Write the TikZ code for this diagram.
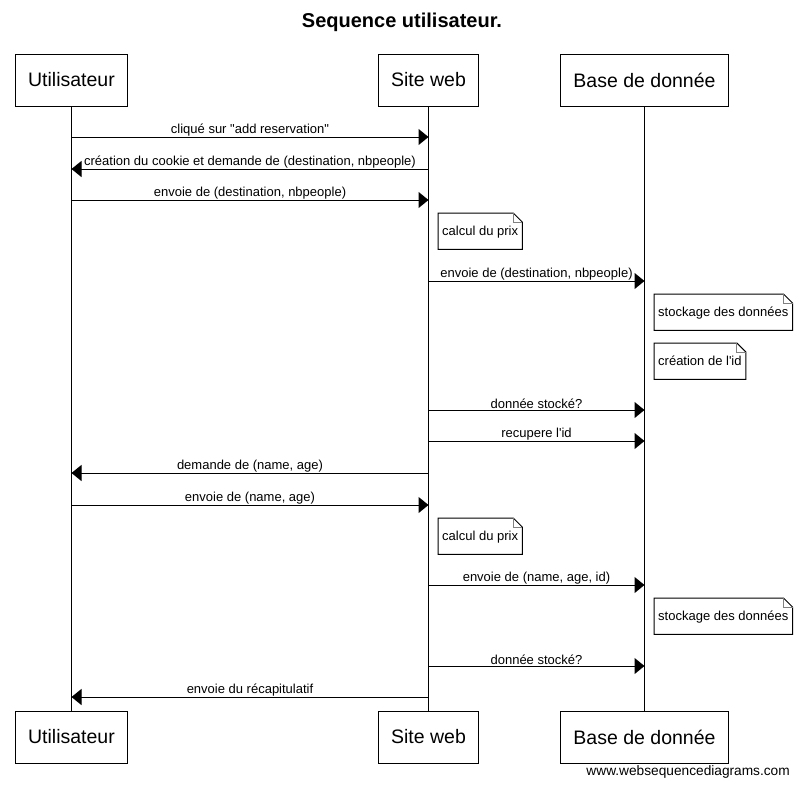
\documentclass[tikz,border=0pt]{standalone}
\usepackage{fontspec}
\setmainfont{Liberation Sans}
\usepackage{tikz}
\usetikzlibrary{arrows.meta,positioning,calc}
\tikzset{
  actor/.style={draw, line width=1pt, minimum height=52pt, inner xsep=13pt,
  font=\fontsize{19.5}{22}\selectfont},
  life/.style={line width=1pt},
  msg/.style={line width=1pt, -{Triangle[length=10pt,width=16pt]}},
  lbl/.style={above, inner sep=0pt, yshift=0.5pt, font=\fontsize{13}{15}\selectfont},
  note/.style={anchor=north west, minimum height=36pt, inner xsep=4pt,
  inner ysep=0pt, text depth=0pt, font=\fontsize{13}{15}\selectfont},
  notebox/.style={draw=black, line width=1pt},
  fold/.style={draw=gray, line width=1pt}
}
% message from one lifeline to another at height #1
\newcommand\msg[4]{\draw[msg] (#2 |- 0,#1) -- node[lbl]{#4} (#3 |- 0,#1);}
% note with a folded corner
\newcommand\wsdnote[3]{%
  \node[note] (#1) at (#2) {#3};
  \draw[notebox] (#1.north west) -- ([xshift=-9pt]#1.north east)
    -- ([yshift=-9pt]#1.north east) -- (#1.south east)
    -- (#1.south west) -- cycle;
  \draw[fold] ([xshift=-9pt]#1.north east) -- ([xshift=-9pt,yshift=-9pt]#1.north east)
    -- ([yshift=-9pt]#1.north east);
}

\begin{document}
\begin{tikzpicture}[x=1pt, y=-1pt]
  \useasboundingbox (0,0) rectangle (801,788);
  \node[font=\bfseries\fontsize{20}{22}\selectfont] (title) at (402,22) {Sequence utilisateur.};
  % actors
  \node[actor] (ut) at (71.5,80) {Utilisateur};
  \node[actor] (web) at (428.5,80) {Site web};
  \node[actor] (db) at (644.5,80) {Base de donnée};
  \node[actor] (utb) at (71.5,737) {Utilisateur};
  \node[actor] (webb) at (428.5,737) {Site web};
  \node[actor] (dbb) at (644.5,737) {Base de donnée};
  \draw[life] (ut) -- (utb);
  \draw[life] (web) -- (webb);
  \draw[life] (db) -- (dbb);
  % messages
  \msg{137}{ut}{web}{cliqué sur \textquotedbl add reservation\textquotedbl}
  \msg{169}{web}{ut}{création du cookie et demande de (destination, nbpeople)}
  \msg{200}{ut}{web}{envoie de (destination, nbpeople)}
  \wsdnote{n1}{438,213}{calcul du prix}
  \msg{281}{web}{db}{envoie de (destination, nbpeople)}
  \wsdnote{n2}{654,294}{stockage des données}
  \wsdnote{n3}{654,343}{création de l\textquotesingle id}
  \msg{410}{web}{db}{donnée stocké?}
  \msg{441}{web}{db}{recupere l\textquotesingle id}
  \msg{473}{web}{ut}{demande de (name, age)}
  \msg{505}{ut}{web}{envoie de (name, age)}
  \wsdnote{n4}{438,518}{calcul du prix}
  \msg{585}{web}{db}{envoie de (name, age, id)}
  \wsdnote{n5}{654,598}{stockage des données}
  \msg{666}{web}{db}{donnée stocké?}
  \msg{697}{web}{ut}{envoie du récapitulatif}
  \node[anchor=east, inner sep=0pt, font=\fontsize{13.7}{15}\selectfont] (credit) at (790,772) {www.websequencediagrams.com};
\end{tikzpicture}
\end{document}
